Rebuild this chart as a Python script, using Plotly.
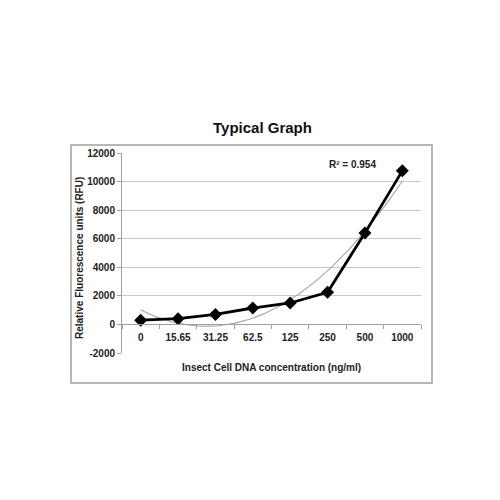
import numpy as np
import plotly.graph_objects as go

categories = ["0", "15.65", "31.25", "62.5", "125", "250", "500", "1000"]
rfu = [300, 400, 700, 1150, 1500, 2250, 6400, 10750]
y_ticks = [-2000, 0, 2000, 4000, 6000, 8000, 10000, 12000]
r2_text = "R² = 0.954"

idx = np.arange(len(categories))
coef = np.polyfit(idx, rfu, 2)
xs = np.linspace(0, len(categories) - 1, 200)
trend = np.polyval(coef, xs)

FONT = "Liberation Sans, Arial, sans-serif"
OFF = 8  # page body margin

fig = go.Figure()
fig.add_trace(go.Scatter(x=xs, y=trend, mode="lines",
                         line=dict(color="#a5a5a5", width=1.1), hoverinfo="skip"))
fig.add_trace(go.Scatter(x=idx, y=rfu, mode="lines+markers",
                         line=dict(color="black", width=2.8),
                         marker=dict(symbol="diamond", size=10, color="black")))

# target screen positions of plot area
SX0, SX1, SY0, SY1 = 122, 421, 153, 353
L, T = SX0 - OFF, SY0 - OFF
R, B = 500 - (SX1 - OFF), 500 - (SY1 - OFF)
pw, ph = SX1 - SX0, SY1 - SY0

def px(x):
    return (x - SX0) / pw

def py(y):
    return (SY1 - y) / ph

def label(text, x, y, size=10, angle=0, color="#222"):
    return dict(text=text, xref="paper", yref="paper", x=px(x), y=py(y),
                xanchor="center", yanchor="middle", showarrow=False,
                textangle=angle,
                font=dict(family=FONT, size=size, color=color, weight="bold"))

fig.update_layout(
    width=500, height=500,
    margin=dict(l=L, r=R, t=T, b=B, autoexpand=False),
    paper_bgcolor="white", plot_bgcolor="white",
    showlegend=False,
    font=dict(family=FONT, color="#222", size=10),
    xaxis=dict(
        range=[-0.5, len(categories) - 0.5],
        tickmode="array", tickvals=idx, ticktext=categories,
        ticks="", showgrid=False, zeroline=False,
        showline=True, linecolor="#a0a0a0", linewidth=1,
        anchor="free", position=(0 - y_ticks[0]) / (y_ticks[-1] - y_ticks[0]),
        tickfont=dict(family=FONT, size=10, color="#222", weight="bold"),
        ticklabelstandoff=4,
        minor=dict(tick0=0.5, dtick=1, ticks="outside", ticklen=4, tickcolor="#a0a0a0"),
        fixedrange=True, automargin=False,
    ),
    yaxis=dict(
        range=[y_ticks[0], y_ticks[-1]],
        tickmode="array", tickvals=y_ticks, ticktext=[str(v) for v in y_ticks],
        showgrid=True, gridcolor="#c8c8c8", gridwidth=1,
        zeroline=False,
        showline=True, linecolor="#a0a0a0", linewidth=1,
        ticks="outside", ticklen=4, tickcolor="#a0a0a0",
        tickfont=dict(family=FONT, size=10, color="#222", weight="bold"),
        domain=[0, 1], automargin=False,
    ),
    shapes=[dict(type="rect", xref="paper", yref="paper",
                 x0=px(71), x1=px(432), y0=py(383), y1=py(145),
                 line=dict(color="#a0a0a0", width=1.5))],
    annotations=[
        label("Typical Graph", 262, 127, size=15, color="#111"),
        label(r2_text, 352, 164),
        label("Insect Cell DNA concentration (ng/ml)", 271, 367),
        label("Relative Fluorescence units (RFU)", 79, 258, angle=-90),
    ],
)

fig.write_html("out.html")
